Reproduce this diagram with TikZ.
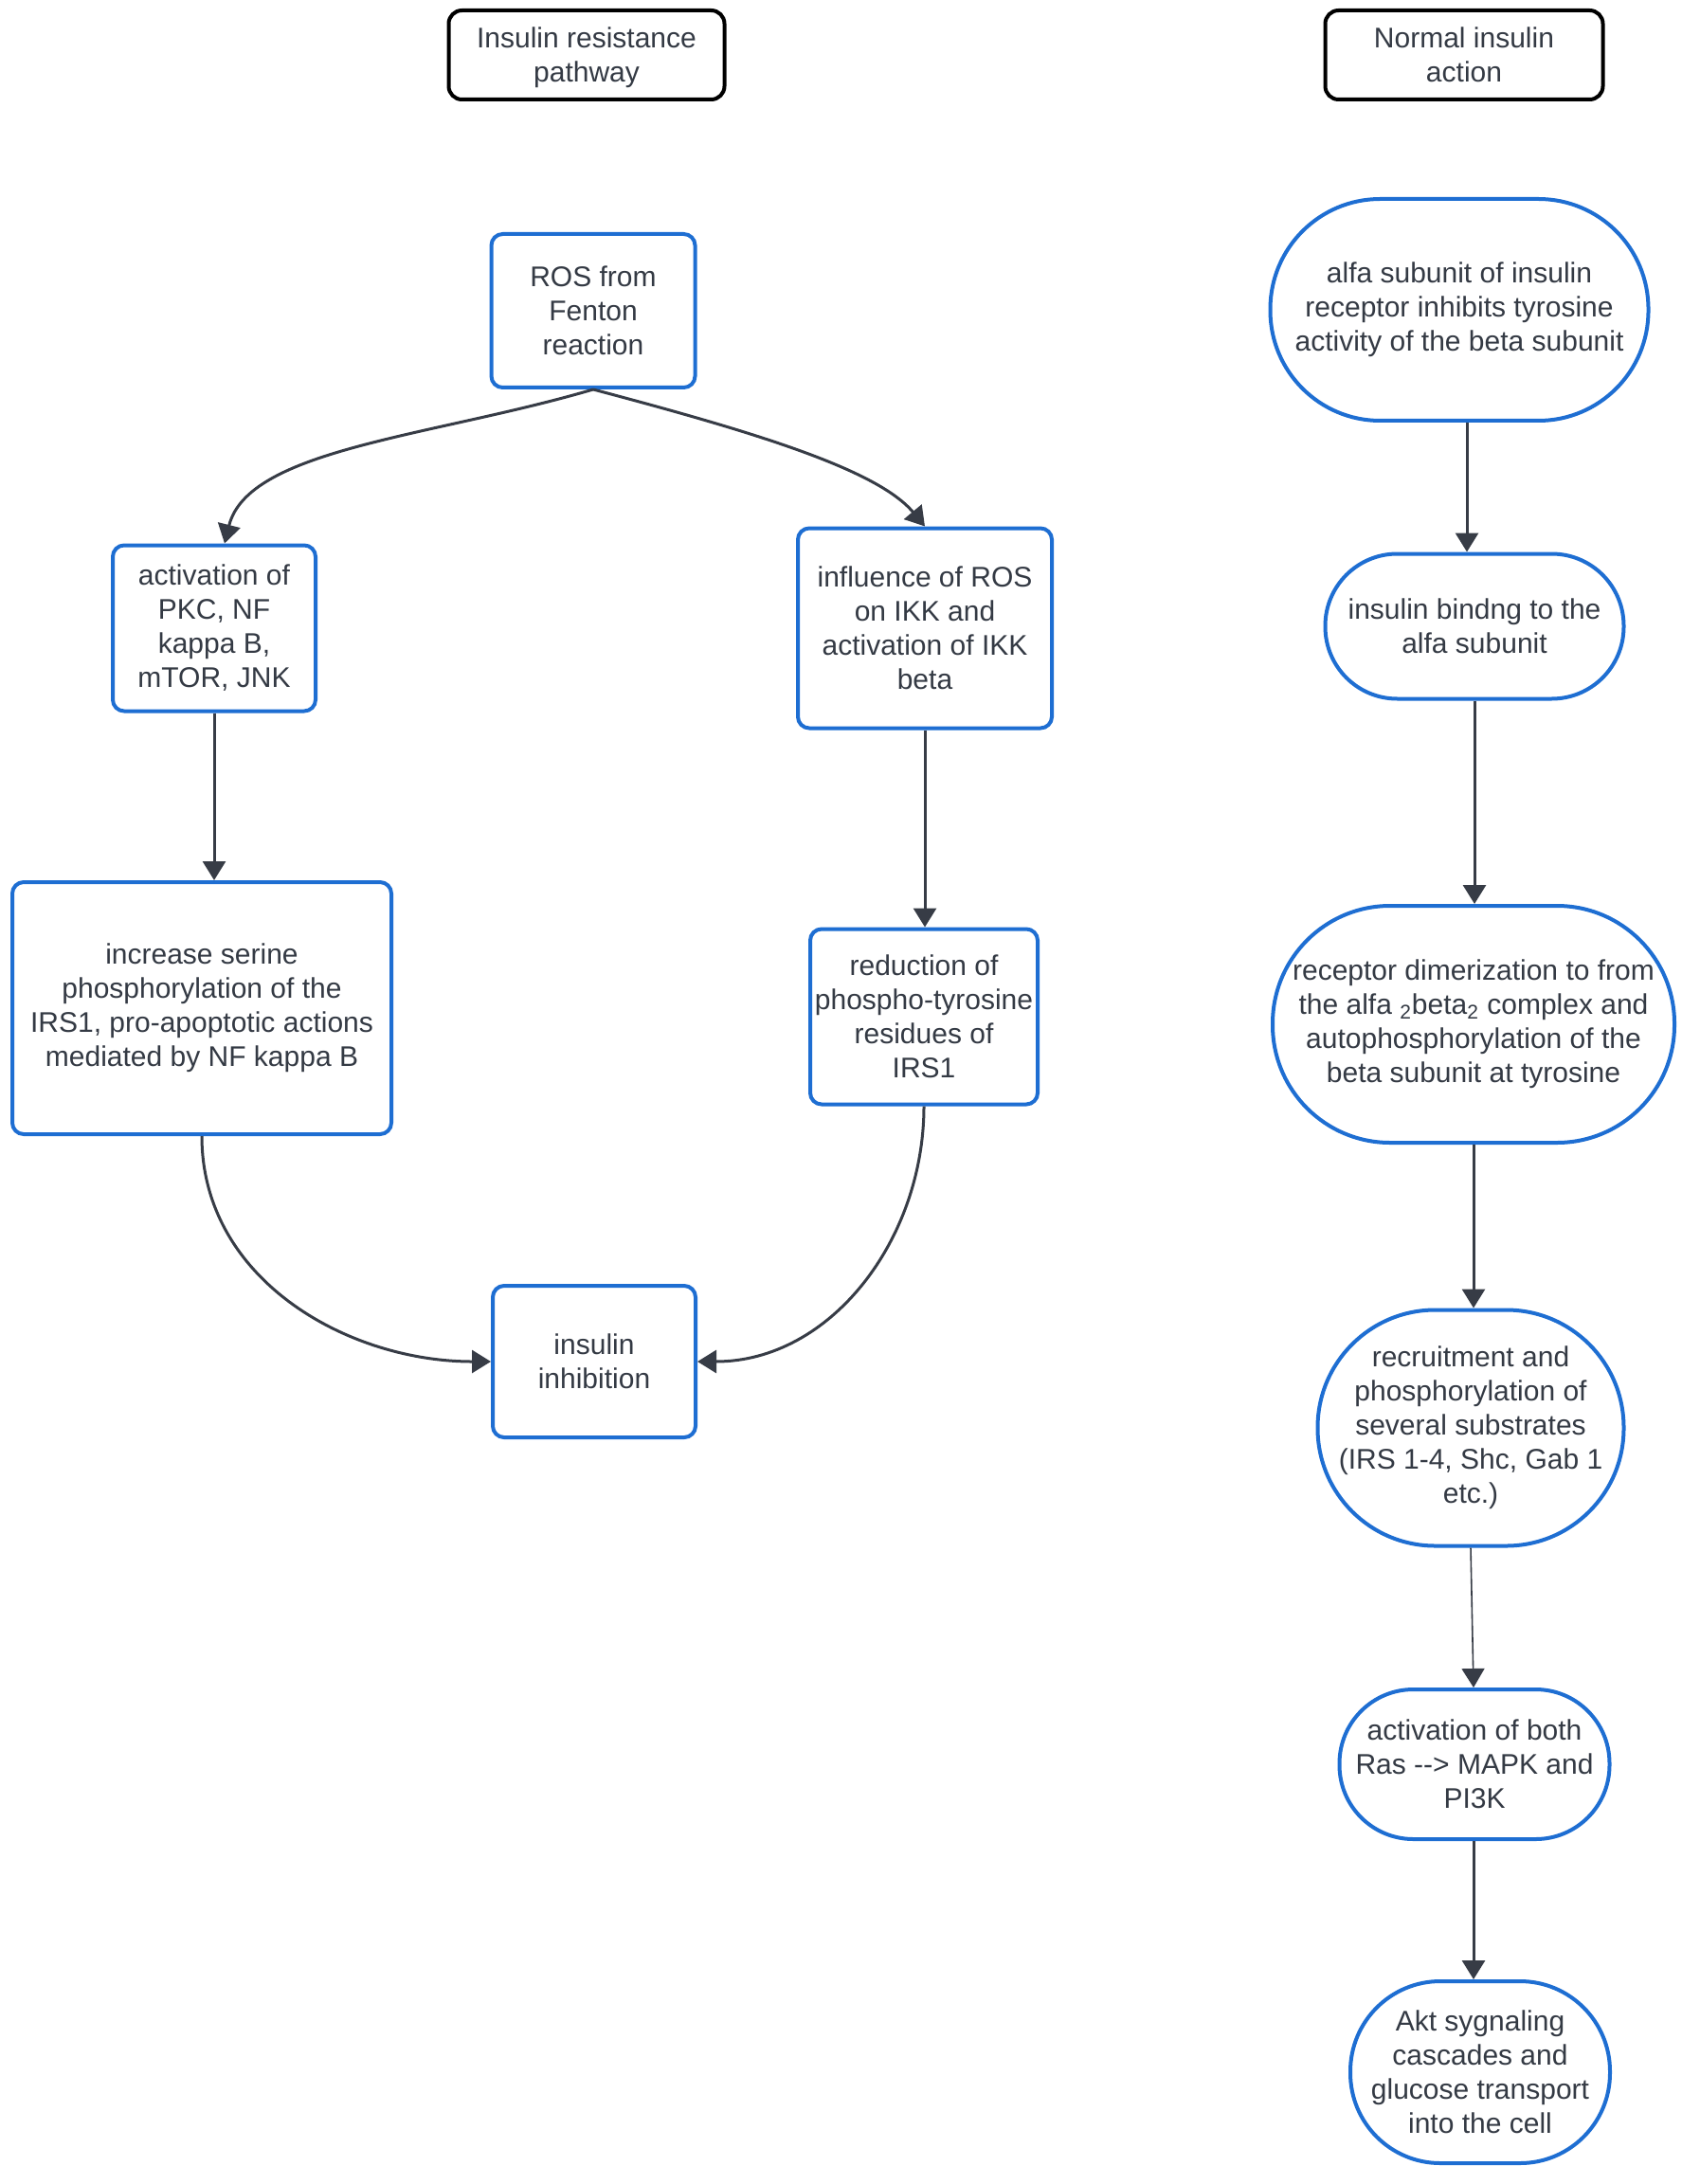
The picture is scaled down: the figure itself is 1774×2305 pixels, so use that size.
\documentclass[tikz,border=0pt]{standalone}
\usepackage{fontspec}
\setmainfont{Liberation Sans}
\usetikzlibrary{arrows.meta,calc}
\definecolor{myblue}{RGB}{30,110,210}
\definecolor{mytext}{RGB}{52,58,68}
\definecolor{myline}{RGB}{55,60,70}
\tikzset{
  txt/.style={align=center, text=mytext, font=\fontsize{15pt}{18pt}\selectfont, inner sep=0pt},
  titlebox/.style={txt, draw=black, line width=2pt, rounded corners=7pt, text depth=0pt},
  bluebox/.style={txt, draw=myblue, line width=2pt, rounded corners=6pt},
  stadbox/.style={txt, draw=myblue, line width=2pt},
  conn/.style={draw=myline, line width=1.5pt, -{Triangle[length=10pt,width=12pt]}},
  thinconn/.style={draw=myline, line width=0.8pt, -{Triangle[length=10pt,width=12pt]}}
}
\begin{document}
\begin{tikzpicture}[x=0.5pt,y=0.5pt]
\useasboundingbox[fill=white] (0,0) rectangle (1774,-2305);

% titles
\node[titlebox, minimum width=145.5pt, minimum height=47pt] (t1) at (619,-58) {Insulin resistance\\pathway};
\node[titlebox, minimum width=146.5pt, minimum height=47pt] (t2) at (1545,-58) {Normal insulin\\action};

% left pathway
\node[bluebox, minimum width=107.5pt, minimum height=81pt] (ros) at (626,-328) {ROS from\\Fenton\\reaction};
\node[bluebox, minimum width=107pt, minimum height=87.5pt] (act) at (226,-663) {activation of\\PKC, NF\\kappa B,\\mTOR, JNK};
\node[bluebox, minimum width=134pt, minimum height=105.5pt] (inf) at (976,-663) {influence of ROS\\on IKK and\\activation of IKK\\beta};
\node[bluebox, minimum width=200pt, minimum height=133pt] (inc) at (213,-1064) {increase serine\\phosphorylation of the\\IRS1, pro-apoptotic actions\\mediated by NF kappa B};
\node[bluebox, minimum width=120pt, minimum height=92.5pt] (red) at (975,-1073) {reduction of\\phospho-tyrosine\\residues of\\IRS1};
\node[bluebox, minimum width=107pt, minimum height=80pt] (inh) at (627,-1437) {insulin\\inhibition};

% right pathway
\node[stadbox, minimum width=199.5pt, minimum height=117pt, rounded corners=58pt] (alfa) at (1540,-327) {alfa subunit of insulin\\receptor inhibits tyrosine\\activity of the beta subunit};
\node[stadbox, minimum width=157.5pt, minimum height=76.5pt, rounded corners=38pt] (bind) at (1556,-661) {insulin bindng to the\\alfa subunit};
\node[stadbox, minimum width=212pt, minimum height=125pt, rounded corners=62pt] (rec) at (1555,-1081) {receptor dimerization to from\\the alfa \textsubscript{2}beta\textsubscript{2} complex and\\autophosphorylation of the\\beta subunit at tyrosine};
\node[stadbox, minimum width=161.5pt, minimum height=124.5pt, rounded corners=62pt] (recr) at (1552,-1507) {recruitment and\\phosphorylation of\\several substrates\\(IRS 1-4, Shc, Gab 1\\etc.)};
\node[stadbox, minimum width=142.5pt, minimum height=79pt, rounded corners=39pt] (both) at (1556,-1862) {activation of both\\Ras -{}-{}> MAPK and\\PI3K};
\node[stadbox, minimum width=137pt, minimum height=96pt, rounded corners=47.5pt] (akt) at (1562,-2187) {Akt sygnaling\\cascades and\\glucose transport\\into the cell};

% left connectors
\coordinate (actin) at ($(act.north)+(11,0)$);
\draw[conn] (ros.south) .. controls ($(ros.south)+(-170,-50)$) and ($(actin)+(25,100)$) .. (actin);
\draw[conn] (ros.south) .. controls ($(ros.south)+(170,-45)$) and ($(inf.north)+(-50,60)$) .. (inf.north);
\draw[conn] (act.south) -- (act.south |- inc.north);
\draw[conn] (inf.south) -- (inf.south |- red.north);
\draw[conn] (inc.south) to[out=-90,in=180] (inh.west);
\draw[conn] (red.south) to[out=-90,in=0] (inh.east);

% right connectors
\coordinate (a1) at ($(alfa.south)+(8,0)$);
\draw[conn] (a1) -- (a1 |- bind.north);
\draw[conn] (bind.south) -- (bind.south |- rec.north);
\draw[conn] (rec.south) -- (rec.south |- recr.north);
\coordinate (b1) at ($(both.north)+(-1,0)$);
\draw[thinconn] (recr.south) -- (b1);
\coordinate (c1) at ($(both.south)+(-1,0)$);
\draw[conn] (c1) -- (c1 |- akt.north);
\end{tikzpicture}
\end{document}
